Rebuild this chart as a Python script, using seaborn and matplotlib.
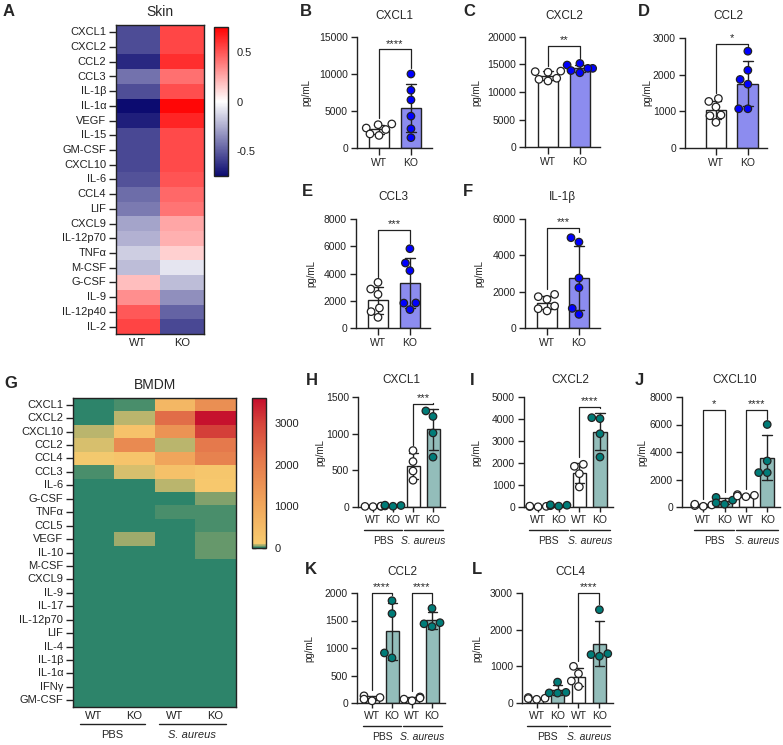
import numpy as np
import pandas as pd
import matplotlib
matplotlib.use("Agg")
import matplotlib.pyplot as plt
import matplotlib.transforms as mtransforms
from matplotlib.colors import LinearSegmentedColormap
import seaborn as sns

# ---- A: skin heatmap (row z-scores) ----
skin_cytokines = ["CXCL1", "CXCL2", "CCL2", "CCL3", "IL-1β", "IL-1α", "VEGF", "IL-15",
                  "GM-CSF", "CXCL10", "IL-6", "CCL4", "LIF", "CXCL9", "IL-12p70", "TNFα",
                  "M-CSF", "G-CSF", "IL-9", "IL-12p40", "IL-2"]
skin_wt = [-0.55, -0.55, -0.66, -0.43, -0.54, -0.75, -0.69, -0.56, -0.56, -0.56, -0.53,
           -0.45, -0.41, -0.28, -0.24, -0.15, -0.20, 0.19, 0.33, 0.49, 0.55]
skin_ko = [0.54, 0.54, 0.61, 0.42, 0.52, 0.73, 0.64, 0.53, 0.53, 0.53, 0.50,
           0.44, 0.41, 0.26, 0.23, 0.14, -0.08, -0.20, -0.34, -0.48, -0.56]

# ---- G: BMDM heatmap (pg/mL) ----
bmdm_cytokines = ["CXCL1", "CXCL2", "CXCL10", "CCL2", "CCL4", "CCL3", "IL-6", "G-CSF",
                  "TNFα", "CCL5", "VEGF", "IL-10", "M-CSF", "CXCL9", "IL-9", "IL-17",
                  "IL-12p70", "LIF", "IL-4", "IL-1β", "IL-1α", "IFNγ", "GM-CSF"]
bmdm_pbs_wt = [8, 2, 75, 90, 110, 22, 0, 0, 2, 0, 8, 1, 2, 2, 2, 1, 1, 1, 1, 1, 1, 1, 1]
bmdm_pbs_ko = [18, 75, 300, 1700, 280, 90, 0, 0, 3, 0, 60, 4, 2, 2, 4, 1, 1, 1, 1, 1, 1, 1, 1]
bmdm_sa_wt = [600, 2300, 1500, 75, 1050, 350, 72, 13, 16, 14, 5, 5, 5, 2, 3, 1, 1, 1, 1, 1, 1, 1, 1]
bmdm_sa_ko = [1600, 3550, 3050, 2100, 1900, 200, 150, 55, 16, 15, 30, 30, 1, 1, 1, 1, 1, 1, 1, 1, 1, 1, 1]
bmdm_heat_cols = ["WT", "KO", "WT ", "KO "]

# ---- B-F: skin, WT vs KO (pg/mL) ----
skin_groups = ["WT", "KO"]
skin_cxcl1 = [[3250, 3150, 2700, 2500, 1900, 1700], [10000, 7800, 6500, 4300, 2600, 1400]]
skin_cxcl2 = [[13800, 13700, 13600, 12500, 12300, 12000], [15200, 14900, 14300, 14300, 13900, 13500]]
skin_ccl2 = [[1350, 1270, 1120, 900, 880, 700], [2640, 2120, 1870, 1740, 1070, 1070]]
skin_ccl3 = [[3350, 2860, 2470, 1470, 1200, 780], [5820, 4770, 4210, 1840, 1830, 1350]]
skin_il1b = [[1850, 1725, 1580, 1210, 1060, 940], [4970, 4730, 2750, 2220, 1080, 750]]

# ---- H-L: BMDM, PBS / S. aureus (pg/mL) ----
bmdm_groups = ["PBS WT", "PBS KO", "SA WT", "SA KO"]
bmdm_ticklabels = ["WT", "KO", "WT", "KO"]
bmdm_cxcl1 = [[5, 8, 10, 12], [10, 15, 20, 25], [770, 620, 490, 365], [1310, 1235, 1010, 680]]
bmdm_cxcl2 = [[10, 20, 30, 40], [40, 60, 80, 100], [1940, 1850, 1515, 910], [4060, 4015, 3330, 2270]]
bmdm_cxcl10 = [[50, 100, 150, 200], [700, 500, 300, 200], [900, 850, 800, 750], [6000, 3350, 2500, 2500]]
bmdm_ccl2 = [[130, 100, 70, 40], [1860, 1625, 910, 820], [110, 90, 70, 40], [1720, 1460, 1440, 1390]]
bmdm_ccl4 = [[150, 130, 120, 100], [570, 290, 275, 270], [1000, 800, 600, 450], [2545, 1345, 1320, 1275]]

W, H = 783, 745
INK = "#222222"
FONT = ["Liberation Sans", "DejaVu Sans"]

sns.set_theme(style="ticks")
plt.rcParams["font.family"] = FONT
plt.rcParams["axes.unicode_minus"] = False
plt.rcParams["axes.edgecolor"] = INK
plt.rcParams["xtick.color"] = INK
plt.rcParams["ytick.color"] = INK


def rect(l, t, r, b):
    return [l / W, 1 - b / H, (r - l) / W, (b - t) / H]


def fig_text(fig, x, y, s, **kw):
    fig.text(x / W, 1 - y / H, s, **kw)


fig = plt.figure(figsize=(W / 100, H / 100), dpi=100)


def style_heatmap(ax, cbar):
    for sp in ax.spines.values():
        sp.set_visible(True)
        sp.set_linewidth(1)
        sp.set_color(INK)
    ax.tick_params(axis="y", left=True, length=5, width=1, labelsize=8, pad=2, rotation=0)
    ax.tick_params(axis="x", bottom=False, length=0, labelsize=8, pad=3, rotation=0)
    ax.set_xlabel("")
    ax.set_ylabel("")
    cbar.outline.set_linewidth(1)
    cbar.outline.set_edgecolor(INK)
    cbar.ax.tick_params(direction="in", left=True, right=True, length=3, width=1,
                        labelsize=8, pad=6)


# ---- panel A ----
skin_cmap = LinearSegmentedColormap.from_list("skin", ["#0c0b70", "#ffffff", "#ff0000"])
skin_df = pd.DataFrame({"WT": skin_wt, "KO": skin_ko}, index=skin_cytokines)
axA = fig.add_axes(rect(116, 25, 204, 334))
caxA = fig.add_axes(rect(214, 27, 228, 176))
sns.heatmap(skin_df, cmap=skin_cmap, vmin=-0.75, vmax=0.75, ax=axA, cbar_ax=caxA,
            yticklabels=True, cbar_kws={"ticks": [-0.5, 0, 0.5]})
cbA = axA.collections[0].colorbar
cbA.set_ticklabels(["-0.5", "0", "0.5"])
style_heatmap(axA, cbA)
fig_text(fig, 160, 12, "Skin", ha="center", va="center", fontsize=10)
fig_text(fig, 3, 12, "A", ha="left", va="center", fontsize=12, fontweight="bold")

# ---- panel G ----
bmdm_cmap = LinearSegmentedColormap.from_list(
    "bmdm", [(0.0, "#2d846a"), (0.028, "#f7ca6e"), (0.3, "#f0a45a"),
             (0.58, "#e57a4c"), (0.83, "#d6453b"), (1.0, "#c50d2c")])
bmdm_df = pd.DataFrame(dict(zip(bmdm_heat_cols, [bmdm_pbs_wt, bmdm_pbs_ko, bmdm_sa_wt, bmdm_sa_ko])),
                       index=bmdm_cytokines)
axG = fig.add_axes(rect(73, 398, 236, 707))
caxG = fig.add_axes(rect(252, 398, 266, 548))
sns.heatmap(bmdm_df, cmap=bmdm_cmap, vmin=0, vmax=3600, ax=axG, cbar_ax=caxG,
            yticklabels=True, cbar_kws={"ticks": [0, 1000, 2000, 3000]})
cbG = axG.collections[0].colorbar
cbG.set_ticklabels(["0", "1000", "2000", "3000"])
style_heatmap(axG, cbG)
axG.set_xticklabels(["WT", "KO", "WT", "KO"])
tG = mtransforms.blended_transform_factory(axG.transData, axG.transAxes)
for (x0, x1), lab, st in [((0.17, 1.77), "PBS", "normal"), ((2.11, 3.75), "S. aureus", "italic")]:
    axG.plot([x0, x1], [-0.055, -0.055], transform=tG, color=INK, lw=1, clip_on=False)
    axG.text((x0 + x1) / 2, -0.09, lab, transform=tG, ha="center", va="center",
             fontsize=8, style=st)
fig_text(fig, 155, 385, "BMDM", ha="center", va="center", fontsize=10)
fig_text(fig, 4, 383, "G", ha="left", va="center", fontsize=12, fontweight="bold")


def bar_panel(box, groups, values, bar_colors, dot_colors, ymax, ystep, xlim, ylab_x,
              brackets, ticklabels, capsize, xtick_len):
    l, t, r, b = box
    ax = fig.add_axes(rect(l, t, r, b))
    df = pd.DataFrame({"group": np.repeat(groups, [len(v) for v in values]),
                       "value": np.concatenate(values)})
    sns.barplot(data=df, x="group", y="value", hue="group", order=groups, hue_order=groups,
                palette=dict(zip(groups, bar_colors)), errorbar="sd", capsize=capsize,
                width=0.65, edgecolor=INK, linewidth=1,
                err_kws={"color": INK, "linewidth": 1}, legend=False, ax=ax)
    sns.swarmplot(data=df, x="group", y="value", hue="group", order=groups, hue_order=groups,
                  palette=dict(zip(groups, dot_colors)), size=5.4, edgecolor=INK,
                  linewidth=0.9, legend=False, warn_thresh=1, zorder=3, ax=ax)
    for c in ax.collections:
        c.set_clip_on(False)
    ax.set_xlim(*xlim)
    ax.set_ylim(0, ymax)
    ax.set_yticks(np.arange(0, ymax + 1, ystep))
    ax.set_xticks(range(len(groups)))
    ax.set_xticklabels(ticklabels)
    ax.set_xlabel("")
    ax.set_ylabel("pg/mL", fontsize=7)
    ax.yaxis.set_label_coords((ylab_x + 4 - l) / (r - l), 0.5)
    ax.tick_params(axis="both", labelsize=7.5, width=1, pad=2)
    ax.tick_params(axis="y", length=4.5)
    ax.tick_params(axis="x", length=xtick_len)
    for sp in ax.spines.values():
        sp.set_linewidth(1)
    sns.despine(ax=ax)

    # significance brackets
    for i, j, label, top in brackets:
        ends = []
        for k in (i, j):
            v = np.asarray(values[k], float)
            ends.append(max(v.max(), v.mean() + v.std(ddof=1)) + 0.05 * ymax)
        yt = top * ymax
        ax.plot([i, i, j, j], [ends[0], yt, yt, ends[1]], color=INK, lw=0.9, clip_on=False)
        ax.text((i + j) / 2, yt + 0.005 * ymax, label, ha="center", va="bottom",
                fontsize=8, clip_on=False)
    return ax


skin_bar_colors = ["#ffffff", "#7b7bff"]
skin_dot_colors = ["#ffffff", "#0000ff"]
skin_panels = [
    ("B", "CXCL1", skin_cxcl1, 15000, 5000, (357, 37, 432, 148), (-0.69, 1.66), 307,
     [(0, 1, "****", 0.89)], (300, 11), (394, 16)),
    ("C", "CXCL2", skin_cxcl2, 20000, 5000, (525, 37, 600, 147), (-0.72, 1.63), 477,
     [(0, 1, "**", 0.92)], (463, 11), (564, 16)),
    ("D", "CCL2", skin_ccl2, 3000, 1000, (685, 38, 767, 148), (-0.97, 1.6), 648,
     [(0, 1, "*", 0.95)], (638, 11), (728, 16)),
    ("E", "CCL3", skin_ccl3, 8000, 2000, (356, 219, 430, 328), (-0.69, 1.63), 312,
     [(0, 1, "***", 0.90)], (302, 192), (393, 197)),
    ("F", "IL-1β", skin_il1b, 6000, 2000, (525, 219, 600, 328), (-0.69, 1.66), 480,
     [(0, 1, "***", 0.92)], (463, 192), (562, 197)),
]
for letter, title, vals, ymax, step, box, xlim, ylx, br, lpos, tpos in skin_panels:
    bar_panel(box, skin_groups, vals, skin_bar_colors, skin_dot_colors, ymax, step, xlim,
              ylx, br, skin_groups, 0.3, 5)
    fig_text(fig, *lpos, letter, ha="left", va="center", fontsize=12, fontweight="bold")
    fig_text(fig, *tpos, title, ha="center", va="center", fontsize=8.5)

bmdm_bar_colors = ["#ffffff", "#8cc4c0", "#ffffff", "#8cc4c0"]
bmdm_dot_colors = ["#ffffff", "#007c78", "#ffffff", "#007c78"]
bmdm_panels = [
    ("H", "CXCL1", bmdm_cxcl1, 1500, 500, (358, 397, 445, 507), (-0.75, 3.6), 321,
     [(2, 3, "***", 0.94)], (306, 380), (401, 380)),
    ("I", "CXCL2", bmdm_cxcl2, 5000, 1000, (524, 397, 613, 507), (-0.68, 3.63), 477,
     [(2, 3, "****", 0.91)], (470, 380), (570, 380)),
    ("J", "CXCL10", bmdm_cxcl10, 8000, 2000, (682, 397, 780, 507), (-1.0, 3.6), 643,
     [(0, 1, "*", 0.885), (2, 3, "****", 0.885)], (635, 380), (735, 380)),
    ("K", "CCL2", bmdm_ccl2, 2000, 500, (357, 593, 445, 703), (-0.75, 3.65), 310,
     [(0, 1, "****", 1.0), (2, 3, "****", 1.0)], (305, 570), (402, 572)),
    ("L", "CCL4", bmdm_ccl4, 3000, 1000, (522, 593, 613, 703), (-0.7, 3.65), 478,
     [(2, 3, "****", 1.0)], (472, 570), (570, 572)),
]
for letter, title, vals, ymax, step, box, xlim, ylx, br, lpos, tpos in bmdm_panels:
    ax = bar_panel(box, bmdm_groups, vals, bmdm_bar_colors, bmdm_dot_colors, ymax, step,
                   xlim, ylx, br, bmdm_ticklabels, 0.45, 3.5)
    tr = mtransforms.blended_transform_factory(ax.transData, ax.transAxes)
    for (x0, x1), lab, st in [((-0.45, 1.45), "PBS", "normal"),
                              ((1.55, 3.5), "S. aureus", "italic")]:
        ax.plot([x0, x1], [-0.21, -0.21], transform=tr, color=INK, lw=1, clip_on=False)
        ax.text((x0 + x1) / 2, -0.31, lab, transform=tr, ha="center", va="center",
                fontsize=7.5, style=st)
    fig_text(fig, *lpos, letter, ha="left", va="center", fontsize=12, fontweight="bold")
    fig_text(fig, *tpos, title, ha="center", va="center", fontsize=8.5)

fig.savefig("out.png", dpi=100)
